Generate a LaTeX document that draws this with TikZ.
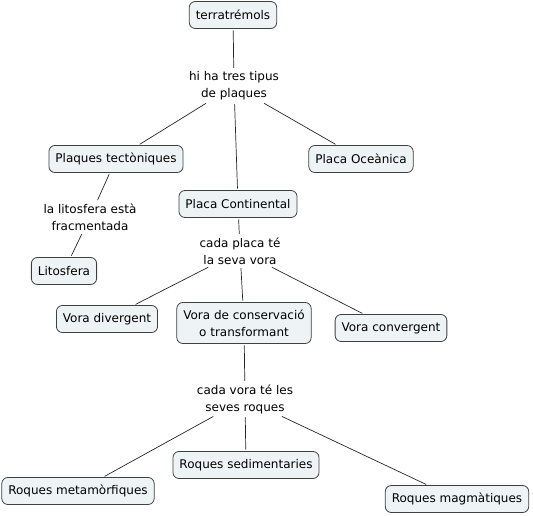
\documentclass[tikz,border=0pt]{standalone}
\usepackage{fontspec}
\setmainfont{DejaVu Sans}
\begin{document}
\begin{tikzpicture}[x=1pt,y=-1pt,
  concept/.style={draw=black!75, fill=boxfill, rounded corners=6pt, line width=0.8pt,
    minimum height=27pt, inner xsep=6.5pt, inner ysep=4pt, font=\fontsize{12}{17}\selectfont, align=center},
  linklabel/.style={inner sep=2pt, font=\fontsize{12}{17}\selectfont, align=center},
  conn/.style={draw=black!85, line width=0.7pt, shorten >=1.5pt, shorten <=1.5pt}]
\definecolor{boxfill}{HTML}{EEF3F5}
\useasboundingbox (0,0) rectangle (533,516);
\node[concept] (terra) at (233,15) {terratrémols};
\node[linklabel] (l1) at (234,86) {hi ha tres tipus\\de plaques};
\node[concept] (tect) at (116,159) {Plaques tectòniques};
\node[concept] (ocea) at (361,159) {Placa Oceànica};
\node[concept] (cont) at (238,204) {Placa Continental};
\node[linklabel] (l2) at (90,217) {la litosfera està\\fracmentada};
\node[concept] (lito) at (64,271) {Litosfera};
\node[linklabel] (l3) at (240,251) {cada placa té\\la seva vora};
\node[concept] (div) at (107,319) {Vora divergent};
\node[concept, minimum height=41pt] (cons) at (244,323) {Vora de conservació\\o transformant};
\node[concept] (conv) at (391,328) {Vora convergent};
\node[linklabel] (l4) at (245,399) {cada vora té les\\seves roques};
\node[concept] (sed) at (246,465) {Roques sedimentaries};
\node[concept] (meta) at (78,491) {Roques metamòrfiques};
\node[concept] (magm) at (457,499) {Roques magmàtiques};
\draw[conn] (terra) -- (l1);
\draw[conn] (l1) -- (tect);
\draw[conn] (l1) -- (cont);
\draw[conn] (l1) -- (ocea);
\draw[conn] (tect) -- (l2);
\draw[conn] (l2) -- (lito);
\draw[conn] (cont) -- (l3);
\draw[conn] (l3) -- (div);
\draw[conn] (l3) -- (cons);
\draw[conn] (l3) -- (conv);
\draw[conn] (cons) -- (l4);
\draw[conn] (l4) -- (meta);
\draw[conn] (l4) -- (sed);
\draw[conn] (l4) -- (magm);
\end{tikzpicture}
\end{document}
